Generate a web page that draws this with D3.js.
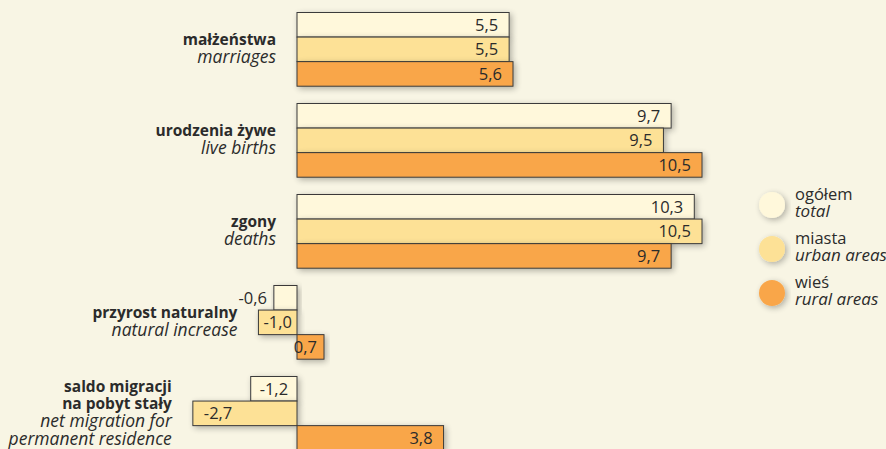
<!DOCTYPE html>
<html>
<head>
<meta charset="utf-8">
<script src="https://cdn.jsdelivr.net/npm/d3@7"></script>
<style>
  html, body { margin: 0; padding: 0; background: #f8f5e4; }
  svg { display: block; font-family: "Open Sans", sans-serif; }
</style>
</head>
<body>
<div id="chart"></div>
<script>
var width = 886, height = 449;

// data
var categories = ["marriages", "births", "deaths", "increase", "migration"];
var labels_pl = [["małżeństwa"], ["urodzenia żywe"], ["zgony"], ["przyrost naturalny"], ["saldo migracji", "na pobyt stały"]];
var labels_en = [["marriages"], ["live births"], ["deaths"], ["natural increase"], ["net migration for", "permanent residence"]];
var series = ["total", "urban", "rural"];
var total = [5.5, 9.7, 10.3, -0.6, -1.2];
var urban = [5.5, 9.5, 10.5, -1.0, -2.7];
var rural = [5.6, 10.5, 9.7, 0.7, 3.8];
var legend_pl = ["ogółem", "miasta", "wieś"];
var legend_en = ["total", "urban areas", "rural areas"];

var colors = {total: "#fff8db", urban: "#fde196", rural: "#f9a64a"};
var values = {total: total, urban: urban, rural: rural};

var svg = d3.select("#chart").append("svg")
    .attr("width", width)
    .attr("height", height);

var defs = svg.append("defs");
var f = defs.append("filter").attr("id", "shadow")
    .attr("x", "-20%").attr("y", "-40%").attr("width", "140%").attr("height", "180%");
f.append("feGaussianBlur").attr("in", "SourceAlpha").attr("stdDeviation", 3);
f.append("feOffset").attr("dx", 2).attr("dy", 2).attr("result", "ob");
f.append("feComponentTransfer").append("feFuncA").attr("type", "linear").attr("slope", 0.3);
var merge = f.append("feMerge");
merge.append("feMergeNode");
merge.append("feMergeNode").attr("in", "SourceGraphic");

var x = d3.scaleLinear().domain([0, 10.5]).range([297, 702]);
var y = d3.scaleBand().domain(categories).range([12.5, 450.2]).paddingInner(0.19).paddingOuter(0);
var ySub = d3.scaleBand().domain(series).range([0, y.bandwidth()]);

function fmt(v) { return v.toFixed(1).replace(".", ","); }

var groups = svg.selectAll(".group")
    .data(categories)
    .enter()
    .append("g")
        .attr("class", "group")
        .attr("transform", function(d) { return "translate(0," + y(d) + ")"; });

groups.each(function(cat, ci) {
    var g = d3.select(this);
    series.forEach(function(s) {
        var v = values[s][ci];
        var x0 = x(Math.min(0, v)), w = Math.abs(x(v) - x(0));
        g.append("rect")
            .attr("x", x0)
            .attr("y", ySub(s))
            .attr("width", w)
            .attr("height", ySub.bandwidth())
            .attr("fill", colors[s])
            .attr("stroke", "#3a3a3a")
            .attr("stroke-width", 1)
            .attr("filter", "url(#shadow)");
    });
    series.forEach(function(s) {
        var v = values[s][ci];
        var w = Math.abs(x(v) - x(0));
        var t = g.append("text")
            .attr("y", ySub(s) + ySub.bandwidth() / 2 + 6)
            .attr("font-size", 16.5)
            .attr("fill", "#2b2b2b")
            .text(fmt(v));
        if (w < 30) {
            t.attr("text-anchor", "end").attr("x", x(v) - 7);
        } else if (w < 50) {
            t.attr("text-anchor", "middle").attr("x", (x(v) + x(0)) / 2);
        } else if (v > 0) {
            t.attr("text-anchor", "end").attr("x", x(v) - 11);
        } else {
            t.attr("text-anchor", "start").attr("x", x(v) + 11);
        }
    });

    // category labels
    var minX = d3.min(series, function(s) { return x(Math.min(0, values[s][ci])); });
    var lines = labels_pl[ci].map(function(l) { return {t: l, b: true}; })
        .concat(labels_en[ci].map(function(l) { return {t: l, b: false}; }));
    var lh = 17.8;
    var cy = y.bandwidth() / 2;
    g.selectAll(".cat")
        .data(lines)
        .enter()
        .append("text")
            .attr("class", "cat")
            .attr("text-anchor", "end")
            .attr("x", minX - 21)
            .attr("y", function(d, i) { return cy - (lines.length - 1) * lh / 2 + 5 + i * lh; })
            .attr("font-size", function(d) { return d.b ? 15.5 : 17.5; })
            .attr("font-weight", function(d) { return d.b ? "bold" : "normal"; })
            .attr("font-style", function(d) { return d.b ? "normal" : "italic"; })
            .attr("fill", "#2b2b2b")
            .text(function(d) { return d.t; });
});

// legend
var legend = svg.selectAll(".legend")
    .data(series)
    .enter()
    .append("g")
        .attr("class", "legend")
        .attr("transform", function(d, i) { return "translate(772," + (205 + i * 44) + ")"; });

legend.append("circle")
    .attr("r", 13)
    .attr("fill", function(d) { return colors[d]; })
    .attr("filter", "url(#shadow)");

legend.append("text")
    .attr("x", 23)
    .attr("y", -5)
    .attr("font-size", 16.5)
    .attr("fill", "#2b2b2b")
    .text(function(d, i) { return legend_pl[i]; });

legend.append("text")
    .attr("x", 23)
    .attr("y", 12)
    .attr("font-size", 17)
    .attr("font-style", "italic")
    .attr("fill", "#2b2b2b")
    .text(function(d, i) { return legend_en[i]; });
</script>
</body>
</html>
